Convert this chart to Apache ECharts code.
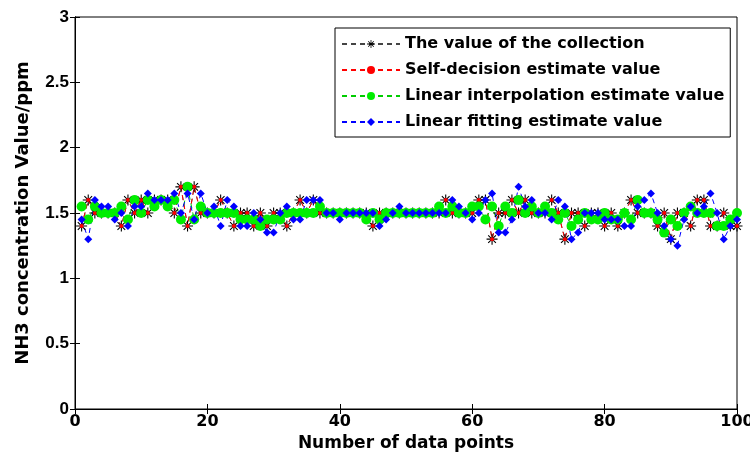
<!DOCTYPE html>
<html><head><meta charset="utf-8">
<script src="https://cdn.jsdelivr.net/npm/echarts@6/dist/echarts.min.js"></script>
<style>html,body{margin:0;padding:0;background:#fff}#c{width:750px;height:453px}</style>
</head><body><div id="c"></div>
<script>
const xTicks = [0, 20, 40, 60, 80, 100];
const yTicks = [0, 0.5, 1, 1.5, 2, 2.5, 3];
const seriesNames = ['The value of the collection', 'Self-decision estimate value', 'Linear interpolation estimate value', 'Linear fitting estimate value'];
const collection = [1.4,1.6,1.5,1.5,1.5,1.5,1.4,1.6,1.5,1.6, 1.5,1.6,1.6,1.6,1.5,1.7,1.4,1.7,1.5,1.5,
  1.5,1.6,1.5,1.4,1.5,1.5,1.4,1.5,1.4,1.5, 1.5,1.4,1.5,1.6,1.5,1.6,1.5,1.5,1.5,1.5,
  1.5,1.5,1.5,1.5,1.4,1.5,1.5,1.5,1.5,1.5, 1.5,1.5,1.5,1.5,1.5,1.6,1.5,1.5,1.5,1.5,
  1.6,1.6,1.3,1.5,1.5,1.6,1.5,1.6,1.5,1.5, 1.5,1.6,1.5,1.3,1.5,1.5,1.4,1.5,1.5,1.4,
  1.5,1.4,1.5,1.6,1.5,1.5,1.5,1.4,1.5,1.3, 1.5,1.5,1.4,1.6,1.6,1.4,1.4,1.5,1.4,1.4];
const selfDecision = [1.4,1.6,1.5,1.5,1.5,1.5,1.4,1.6,1.5,1.6, 1.5,1.6,1.6,1.6,1.5,1.7,1.4,1.7,1.5,1.5,
  1.5,1.6,1.5,1.4,1.5,1.5,1.4,1.5,1.4,1.5, 1.5,1.4,1.5,1.6,1.5,1.6,1.5,1.5,1.5,1.5,
  1.5,1.5,1.5,1.5,1.4,1.5,1.5,1.5,1.5,1.5, 1.5,1.5,1.5,1.5,1.5,1.6,1.5,1.5,1.5,1.5,
  1.6,1.6,1.3,1.5,1.5,1.6,1.5,1.6,1.5,1.5, 1.5,1.6,1.5,1.3,1.5,1.5,1.4,1.5,1.5,1.4,
  1.5,1.4,1.5,1.6,1.5,1.5,1.5,1.4,1.5,1.3, 1.5,1.5,1.4,1.6,1.6,1.4,1.4,1.5,1.4,1.4];
const interpolation = [1.55,1.45,1.55,1.5,1.5,1.5,1.55,1.45,1.6,1.5, 1.6,1.55,1.6,1.55,1.6,1.45,1.7,1.45,1.55,1.5,
  1.5,1.5,1.5,1.5,1.45,1.45,1.45,1.4,1.45,1.45, 1.45,1.5,1.5,1.5,1.5,1.5,1.55,1.5,1.5,1.5,
  1.5,1.5,1.5,1.45,1.5,1.45,1.5,1.5,1.5,1.5, 1.5,1.5,1.5,1.5,1.55,1.5,1.55,1.5,1.5,1.55,
  1.55,1.45,1.55,1.4,1.55,1.5,1.6,1.5,1.55,1.5, 1.55,1.5,1.45,1.5,1.4,1.45,1.5,1.45,1.45,1.5,
  1.45,1.45,1.5,1.45,1.6,1.5,1.5,1.45,1.35,1.45, 1.4,1.5,1.55,1.5,1.5,1.5,1.4,1.4,1.45,1.5];
const fitting = [1.45,1.3,1.6,1.55,1.55,1.45,1.5,1.4,1.55,1.55, 1.65,1.6,1.6,1.6,1.65,1.5,1.65,1.45,1.65,1.5,
  1.55,1.4,1.6,1.55,1.4,1.4,1.5,1.45,1.35,1.35, 1.5,1.55,1.45,1.45,1.6,1.6,1.6,1.5,1.5,1.45,
  1.5,1.5,1.5,1.5,1.5,1.4,1.45,1.5,1.55,1.5, 1.5,1.5,1.5,1.5,1.5,1.5,1.6,1.55,1.5,1.45,
  1.5,1.6,1.65,1.35,1.35,1.45,1.7,1.55,1.6,1.5, 1.5,1.45,1.6,1.55,1.3,1.35,1.5,1.5,1.5,1.45,
  1.45,1.45,1.4,1.4,1.55,1.6,1.65,1.5,1.4,1.3, 1.25,1.45,1.55,1.5,1.55,1.65,1.5,1.3,1.4,1.45];
const pointIndex = collection.map((v, i) => i + 1);

const asterisk = 'path://M0 9L20 9L20 11L0 11Z M9 0L11 0L11 20L9 20Z M2.3 3.7L3.7 2.3L17.7 16.3L16.3 17.7Z M16.3 2.3L17.7 3.7L3.7 17.7L2.3 16.3Z';
const pair = arr => arr.map((v, i) => [pointIndex[i], v]);
const fontA = '"Liberation Sans", Arial, sans-serif';
const fontB = '"DejaVu Sans", sans-serif';

const chart = echarts.init(document.getElementById('c'), null, {renderer: 'canvas'});
chart.setOption({
  animation: false,
  backgroundColor: '#fff',
  grid: {left: 75, right: 13, top: 17, bottom: 44, show: true, borderColor: '#000', borderWidth: 1,
         backgroundColor: 'transparent', outerBoundsMode: 'none', containLabel: false},
  legend: {
    orient: 'vertical', left: 335, top: 28,
    backgroundColor: '#fff', borderColor: '#000', borderWidth: 1,
    padding: [7, 6, 6, 6], itemGap: 8, itemWidth: 58, itemHeight: 10,
    textStyle: {fontFamily: fontB, fontWeight: 'bold', fontSize: 16, color: '#000', lineHeight: 18},
    data: seriesNames
  },
  xAxis: [{
    type: 'value', min: 0, max: 100, interval: 20, position: 'bottom',
    name: 'Number of data points', nameLocation: 'middle', nameGap: 23,
    nameTextStyle: {fontFamily: fontB, fontWeight: 'bold', fontSize: 17, color: '#000'},
    axisLine: {lineStyle: {color: '#000'}}, axisTick: {inside: true, length: 5, lineStyle: {color: '#000'}},
    axisLabel: {fontFamily: fontB, fontWeight: 'bold', fontSize: 16, color: '#000', margin: 5},
    splitLine: {show: false}
  }, {
    type: 'value', min: 0, max: 100, interval: 20, position: 'top',
    axisLine: {lineStyle: {color: '#000'}}, axisTick: {inside: true, length: 5, lineStyle: {color: '#000'}},
    axisLabel: {show: false}, splitLine: {show: false}
  }],
  yAxis: [{
    type: 'value', min: 0, max: 3, interval: 0.5, position: 'left',
    name: 'NH3 concentration Value/ppm', nameLocation: 'middle', nameGap: 43, nameRotate: 90,
    nameTextStyle: {fontFamily: fontB, fontWeight: 'bold', fontSize: 18, color: '#000'},
    axisLine: {lineStyle: {color: '#000'}}, axisTick: {inside: true, length: 5, lineStyle: {color: '#000'}},
    axisLabel: {fontFamily: fontA, fontWeight: 'bold', fontSize: 17, color: '#000', margin: 6},
    splitLine: {show: false}
  }, {
    type: 'value', min: 0, max: 3, interval: 0.5, position: 'right',
    axisLine: {lineStyle: {color: '#000'}}, axisTick: {inside: true, length: 5, lineStyle: {color: '#000'}},
    axisLabel: {show: false}, splitLine: {show: false}
  }],
  series: [
    {name: seriesNames[0], type: 'line', data: pair(collection), symbol: asterisk, symbolSize: 11,
     itemStyle: {color: '#000'}, lineStyle: {color: '#444', width: 1, type: [5, 4]}},
    {name: seriesNames[1], type: 'line', data: pair(selfDecision), symbol: 'circle', symbolSize: 4,
     itemStyle: {color: '#ff0000'}, lineStyle: {color: '#ff0000', width: 1, type: [5, 4]}},
    {name: seriesNames[2], type: 'line', data: pair(interpolation), symbol: 'circle', symbolSize: 10,
     itemStyle: {color: '#00ee00'}, lineStyle: {color: '#00cc00', width: 1, type: [5, 4]}},
    {name: seriesNames[3], type: 'line', data: pair(fitting), symbol: 'diamond', symbolSize: 8,
     itemStyle: {color: '#0000ff'}, lineStyle: {color: '#0000ff', width: 1, type: [5, 4]}}
  ]
});
</script></body></html>
